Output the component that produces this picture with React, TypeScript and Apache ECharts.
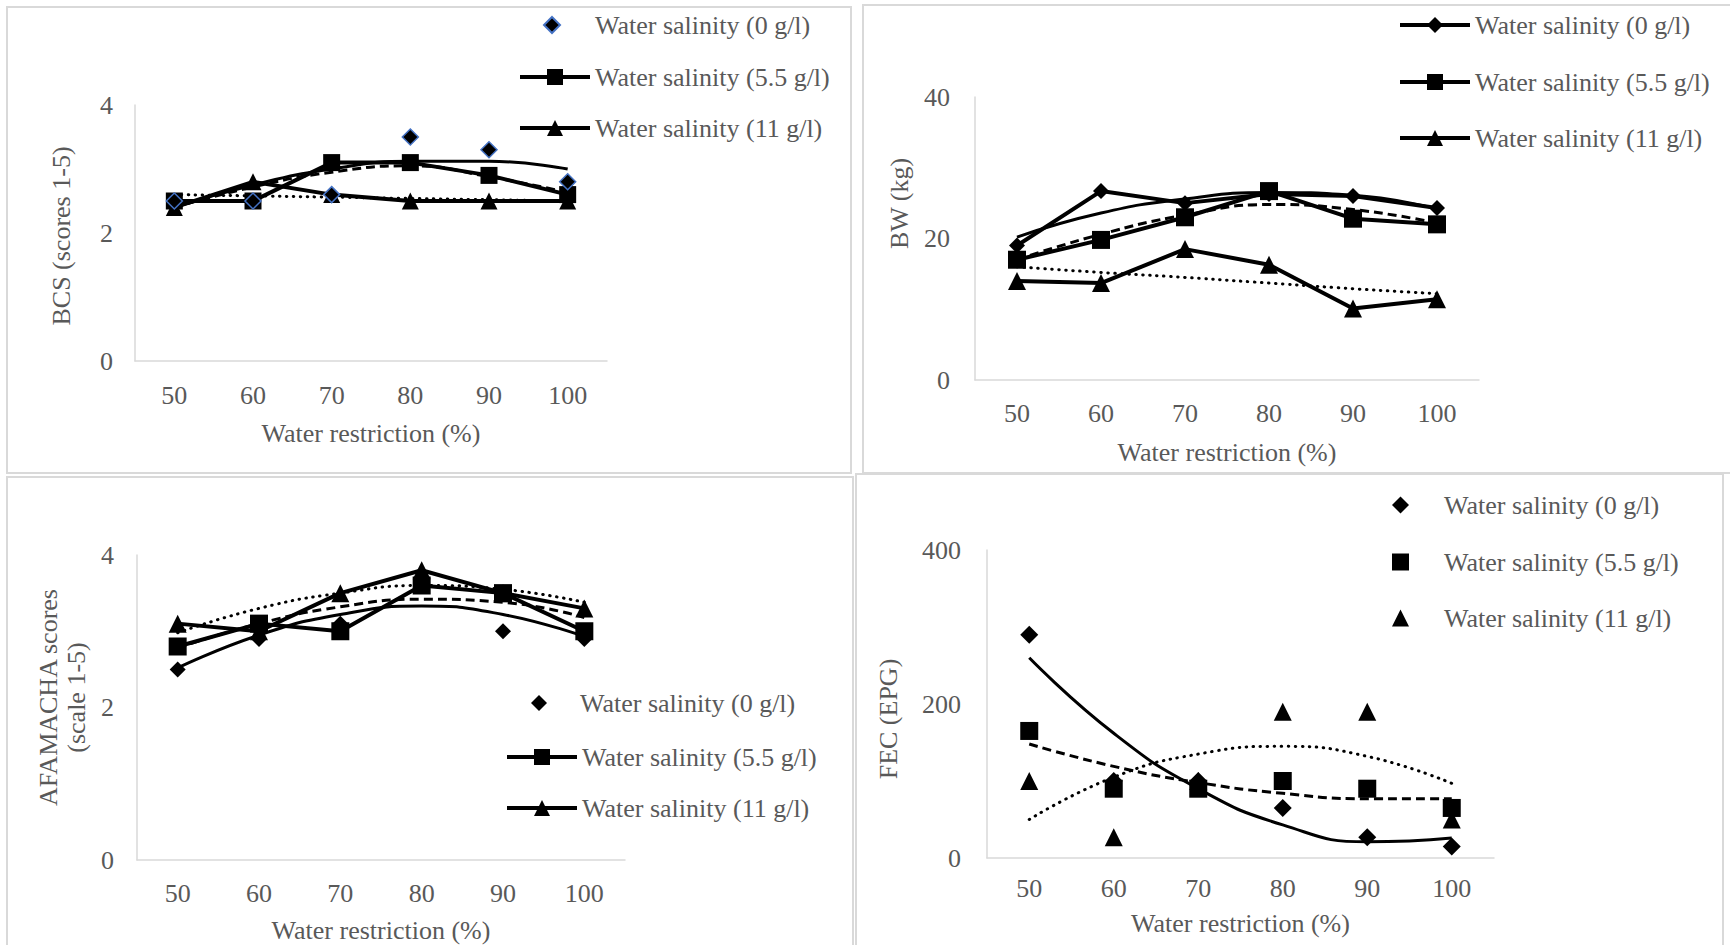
import React, { useEffect, useRef } from 'react';
import * as echarts from 'echarts';

// ---------- data ----------
const categories = ['50', '60', '70', '80', '90', '100'];
const seriesNames = ['Water salinity (0 g/l)', 'Water salinity (5.5 g/l)', 'Water salinity (11 g/l)'];
const yTitleBCS = 'BCS (scores 1-5)';
const yTitleBW = 'BW (kg)';
const yTitleFAM = 'AFAMACHA scores\n(scale 1-5)';
const yTitleFEC = 'FEC (EPG)';
const xTitle = 'Water restriction (%)';

// BCS
const bcs0 = [2.5, 2.5, 2.6, 3.5, 3.3, 2.8];
const bcs55 = [2.5, 2.5, 3.1, 3.1, 2.9, 2.6];
const bcs11 = [2.4, 2.8, 2.6, 2.5, 2.5, 2.5];
const bcsTrend0 = [2.4, 2.75, 3.0, 3.12, 3.12, 3.0];
const bcsTrend55 = [2.4, 2.72, 2.95, 3.05, 2.88, 2.63];
const bcsTrend11 = [2.6, 2.58, 2.56, 2.54, 2.52, 2.5];

// BW
const bw0 = [19, 26.7, 25, 26.3, 26, 24.3];
const bw55 = [17, 19.8, 23, 26.7, 22.8, 22];
const bw11 = [14, 13.7, 18.5, 16.3, 10.1, 11.4];
const bwTrend0 = [20.2, 23.6, 25.6, 26.5, 26.1, 24.2];
const bwTrend55 = [17.0, 20.6, 23.3, 24.8, 24.1, 22.2];
const bwTrend11 = [16.0, 15.2, 14.5, 13.7, 12.9, 12.2];

// AFAMACHA
const fam0 = [2.5, 2.9, 3.1, 3.6, 3.0, 2.9];
const fam55 = [2.8, 3.1, 3.0, 3.6, 3.5, 3.0];
const fam11 = [3.1, 3.0, 3.5, 3.8, 3.5, 3.3];
const famTrend0 = [2.52, 2.95, 3.22, 3.33, 3.22, 2.93];
const famTrend55 = [2.78, 3.1, 3.32, 3.42, 3.38, 3.18];
const famTrend11 = [2.98, 3.3, 3.5, 3.6, 3.55, 3.38];

// FEC
const fec0 = [290, 100, 100, 65, 27, 15];
const fec55 = [165, 90, 90, 100, 90, 65];
const fec11 = [100, 27, 100, 190, 190, 50];
const fecTrend0 = [260, 162, 90, 43, 21, 26];
const fecTrend55 = [148, 119, 98, 84, 77, 77];
const fecTrend11 = [50, 105, 135, 145, 132, 97];

// ---------- styles ----------
const FONT = '"Liberation Serif", "Times New Roman", serif';
const GRAY = '#595959';
const AXIS = '#d9d9d9';
const BLUE = '#4472C4';
const FS = 26;

type SeriesSpec = {
  name: string;
  data: number[];
  kind: 'line' | 'scatter' | 'trend';
  symbol?: string;
  size?: number;
  border?: string;
  dash?: 'solid' | 'dashed' | 'dotted';
};

// left = icon box left, w/h = icon box size, textPad = extra space before the label
type LegendSpec = { name: string; left: number; cy: number; w: number; h: number; textPad: number };

type PanelCfg = {
  box: { left: number; top: number; width: number; height: number };
  grid: { l: number; r: number; t: number; b: number };
  yMax: number;
  yInterval: number;
  yName: string;
  yNameGap: number;
  yNamePad: number[];
  yLabelMargin: number;
  xLabelMargin: number;
  xNameGap: number;
  series: SeriesSpec[];
  legends: LegendSpec[];
};

const dashType = (d?: string): any => {
  if (d === 'dashed') return [9, 5];
  if (d === 'dotted') return [0.5, 6.5];
  return 'solid';
};

function buildSeries(s: SeriesSpec) {
  if (s.kind === 'trend') {
    return {
      type: 'line',
      name: 'Trend ' + s.name,
      data: s.data,
      smooth: true,
      symbol: 'none',
      silent: true,
      z: 2,
      lineStyle: {
        color: '#000',
        width: 3,
        type: dashType(s.dash),
        cap: s.dash === 'dotted' ? 'round' : 'butt',
      },
    };
  }
  const itemStyle: any = { color: '#000', opacity: 1 };
  if (s.border) {
    itemStyle.borderColor = s.border;
    itemStyle.borderWidth = 1.5;
  }
  if (s.kind === 'scatter') {
    return {
      type: 'scatter',
      name: s.name,
      data: s.data,
      symbol: s.symbol,
      symbolSize: s.size,
      itemStyle,
      z: 4,
    };
  }
  return {
    type: 'line',
    name: s.name,
    data: s.data,
    symbol: s.symbol,
    symbolSize: s.size,
    showAllSymbol: true,
    itemStyle,
    lineStyle: { color: '#000', width: 4 },
    z: 3,
  };
}

function buildOption(p: PanelCfg) {
  const ox = p.box.left;
  const oy = p.box.top;
  const txt = { color: GRAY, fontSize: FS, fontFamily: FONT };
  return {
    animation: false,
    grid: {
      left: p.grid.l - ox,
      top: p.grid.t - oy,
      width: p.grid.r - p.grid.l,
      height: p.grid.b - p.grid.t,
      containLabel: false,
      outerBoundsMode: 'none',
    },
    xAxis: {
      type: 'category',
      data: categories,
      boundaryGap: true,
      axisLine: { show: true, lineStyle: { color: AXIS, width: 1.5 } },
      axisTick: { show: false },
      splitLine: { show: false },
      axisLabel: { ...txt, margin: p.xLabelMargin },
      name: xTitle,
      nameLocation: 'middle',
      nameGap: p.xNameGap,
      nameTextStyle: { ...txt },
    },
    yAxis: {
      type: 'value',
      min: 0,
      max: p.yMax,
      interval: p.yInterval,
      axisLine: { show: true, lineStyle: { color: AXIS, width: 1.5 } },
      axisTick: { show: false },
      splitLine: { show: false },
      axisLabel: { ...txt, margin: p.yLabelMargin },
      name: p.yName,
      nameLocation: 'middle',
      nameGap: p.yNameGap,
      nameRotate: 90,
      nameTextStyle: { ...txt, lineHeight: 28, padding: p.yNamePad },
    },
    legend: p.legends.map((lg) => ({
      data: [lg.name],
      orient: 'vertical',
      left: lg.left - ox,
      top: lg.cy - Math.max(lg.h, FS) / 2 - oy,
      itemWidth: lg.w,
      itemHeight: lg.h,
      padding: 0,
      selectedMode: false,
      lineStyle: { width: 4, color: '#000' },
      textStyle: { ...txt, padding: [0, 0, 0, lg.textPad] },
    })),
    series: p.series.map(buildSeries),
  };
}

const [N0, N55, N11] = seriesNames;

const panels: PanelCfg[] = [
  {
    box: { left: 0, top: 0, width: 858, height: 475 },
    grid: { l: 135, r: 607, t: 105, b: 361 },
    yMax: 4,
    yInterval: 2,
    yName: yTitleBCS,
    yNameGap: 60,
    yNamePad: [0, 6, 0, 0],
    yLabelMargin: 22,
    xLabelMargin: 21,
    xNameGap: 59,
    series: [
      { name: N0, data: bcsTrend0, kind: 'trend', dash: 'solid' },
      { name: N55, data: bcsTrend55, kind: 'trend', dash: 'dashed' },
      { name: N11, data: bcsTrend11, kind: 'trend', dash: 'dotted' },
      { name: N55, data: bcs55, kind: 'line', symbol: 'rect', size: 17 },
      { name: N11, data: bcs11, kind: 'line', symbol: 'triangle', size: 17 },
      { name: N0, data: bcs0, kind: 'scatter', symbol: 'diamond', size: 16, border: BLUE },
    ],
    legends: [
      { name: N0, left: 543, cy: 25, w: 16, h: 16, textPad: 30 },
      { name: N55, left: 518, cy: 77, w: 70, h: 20, textPad: 0 },
      { name: N11, left: 518, cy: 128, w: 70, h: 20, textPad: 0 },
    ],
  },
  {
    box: { left: 858, top: 0, width: 872, height: 475 },
    grid: { l: 975, r: 1479, t: 97, b: 380 },
    yMax: 40,
    yInterval: 20,
    yName: yTitleBW,
    yNameGap: 61,
    yNamePad: [0, 0, 0, 70],
    yLabelMargin: 25,
    xLabelMargin: 20,
    xNameGap: 59,
    series: [
      { name: N0, data: bwTrend0, kind: 'trend', dash: 'solid' },
      { name: N55, data: bwTrend55, kind: 'trend', dash: 'dashed' },
      { name: N11, data: bwTrend11, kind: 'trend', dash: 'dotted' },
      { name: N0, data: bw0, kind: 'line', symbol: 'diamond', size: 16 },
      { name: N55, data: bw55, kind: 'line', symbol: 'rect', size: 18 },
      { name: N11, data: bw11, kind: 'line', symbol: 'triangle', size: 18 },
    ],
    legends: [
      { name: N0, left: 1398, cy: 25, w: 70, h: 20, textPad: 0 },
      { name: N55, left: 1398, cy: 82, w: 70, h: 20, textPad: 0 },
      { name: N11, left: 1398, cy: 138, w: 70, h: 20, textPad: 0 },
    ],
  },
  {
    box: { left: 0, top: 475, width: 856, height: 470 },
    grid: { l: 137, r: 625, t: 555, b: 860 },
    yMax: 4,
    yInterval: 2,
    yName: yTitleFAM,
    yNameGap: 46,
    yNamePad: [0, 0, 0, 20],
    yLabelMargin: 23,
    xLabelMargin: 20,
    xNameGap: 57,
    series: [
      { name: N0, data: famTrend0, kind: 'trend', dash: 'solid' },
      { name: N55, data: famTrend55, kind: 'trend', dash: 'dashed' },
      { name: N11, data: famTrend11, kind: 'trend', dash: 'dotted' },
      { name: N55, data: fam55, kind: 'line', symbol: 'rect', size: 18 },
      { name: N11, data: fam11, kind: 'line', symbol: 'triangle', size: 18 },
      { name: N0, data: fam0, kind: 'scatter', symbol: 'diamond', size: 16 },
    ],
    legends: [
      { name: N0, left: 531, cy: 703, w: 16, h: 16, textPad: 28 },
      { name: N55, left: 505, cy: 757, w: 70, h: 20, textPad: 0 },
      { name: N11, left: 505, cy: 808, w: 70, h: 20, textPad: 0 },
    ],
  },
  {
    box: { left: 856, top: 475, width: 874, height: 470 },
    grid: { l: 987, r: 1494, t: 550, b: 858 },
    yMax: 400,
    yInterval: 200,
    yName: yTitleFEC,
    yNameGap: 85,
    yNamePad: [0, 30, 0, 0],
    yLabelMargin: 26,
    xLabelMargin: 17,
    xNameGap: 52,
    series: [
      { name: N0, data: fecTrend0, kind: 'trend', dash: 'solid' },
      { name: N55, data: fecTrend55, kind: 'trend', dash: 'dashed' },
      { name: N11, data: fecTrend11, kind: 'trend', dash: 'dotted' },
      { name: N0, data: fec0, kind: 'scatter', symbol: 'diamond', size: 18 },
      { name: N55, data: fec55, kind: 'scatter', symbol: 'rect', size: 18 },
      { name: N11, data: fec11, kind: 'scatter', symbol: 'triangle', size: 18 },
    ],
    legends: [
      { name: N0, left: 1392, cy: 505, w: 17, h: 17, textPad: 30 },
      { name: N55, left: 1392, cy: 562, w: 17, h: 17, textPad: 30 },
      { name: N11, left: 1392, cy: 618, w: 17, h: 17, textPad: 30 },
    ],
  },
];

const borders = [
  { left: 6, top: 6, width: 846, height: 468 },
  { left: 862, top: 4, width: 880, height: 470 },
  { left: 6, top: 476, width: 848, height: 480 },
  { left: 855, top: 473, width: 869, height: 480 },
];

function Panel({ cfg }: { cfg: PanelCfg }) {
  const ref = useRef<HTMLDivElement>(null);
  useEffect(() => {
    if (!ref.current) return;
    const chart = echarts.init(ref.current, undefined, { renderer: 'svg' });
    chart.setOption(buildOption(cfg) as any);
    return () => chart.dispose();
  }, [cfg]);
  return (
    <div
      ref={ref}
      style={{
        position: 'absolute',
        left: cfg.box.left,
        top: cfg.box.top,
        width: cfg.box.width,
        height: cfg.box.height,
      }}
    />
  );
}

export default function App() {
  return (
    <div style={{ position: 'absolute', left: 0, top: 0, width: 1730, height: 945, overflow: 'hidden', background: '#fff' }}>
      {borders.map((b, i) => (
        <div
          key={'b' + i}
          style={{
            position: 'absolute',
            left: b.left,
            top: b.top,
            width: b.width,
            height: b.height,
            boxSizing: 'border-box',
            border: '2px solid ' + AXIS,
            pointerEvents: 'none',
          }}
        />
      ))}
      {panels.map((p, i) => (
        <Panel key={i} cfg={p} />
      ))}
    </div>
  );
}
